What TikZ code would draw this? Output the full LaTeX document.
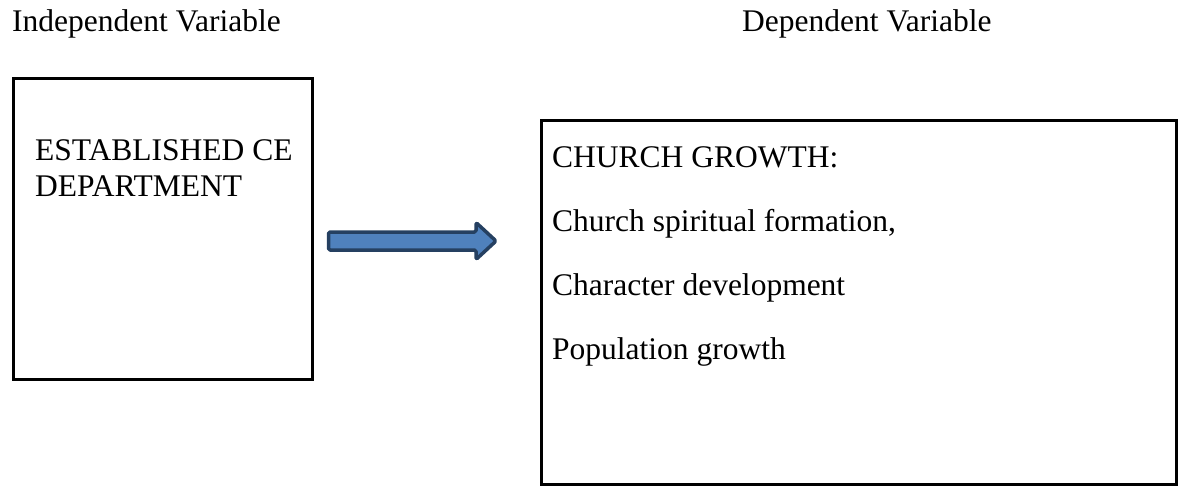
\documentclass[tikz,border=0pt]{standalone}
\usepackage{fontspec}
\setmainfont{Liberation Serif}
\usetikzlibrary{calc}
\definecolor{arrowfill}{RGB}{79,129,189}
\definecolor{arrowedge}{RGB}{37,64,97}
\begin{document}
\begin{tikzpicture}[x=1pt,y=-1pt,
  box/.style={draw=black,line width=3pt,inner sep=0pt},
  lbl/.style={font=\fontsize{31.5}{37}\selectfont,inner sep=0pt,anchor=base west},
  bigarrow/.style={draw=arrowedge,fill=arrowfill,line width=3.5pt,line join=round,rounded corners=1.5pt}]
\useasboundingbox (0,0) rectangle (1178,487);
\node[lbl] (hind) at (12,32) {Independent Variable};
\node[lbl] (hdep) at (742,32) {Dependent Variable};
\node[box,minimum width=299pt,minimum height=300pt] (left) at (162.5,229) {};
\node[box,minimum width=635pt,minimum height=364pt] (right) at (858.5,302) {};
\node[lbl] (l1) at (35,160) {ESTABLISHED CE};
\node[lbl] (l2) at (35,196) {DEPARTMENT};
\node[lbl] (r1) at (552,167) {CHURCH GROWTH:};
\node[lbl] (r2) at (552,231) {Church spiritual formation,};
\node[lbl] (r3) at (552,295) {Character development};
\node[lbl] (r4) at (552,359) {Population growth};
\coordinate (as) at ($(left.east)+(15,12)$);
\coordinate (ae) at ($(right.west)+(-43.5,-61)$);
\draw[bigarrow] ($(as)+(0,-9)$) -- ($(ae)+(-20,-9)$) -- ($(ae)+(-20,-18.5)$)
  -- (ae) -- ($(ae)+(-20,18.5)$) -- ($(ae)+(-20,9)$) -- ($(as)+(0,9)$) -- cycle;
\end{tikzpicture}
\end{document}
